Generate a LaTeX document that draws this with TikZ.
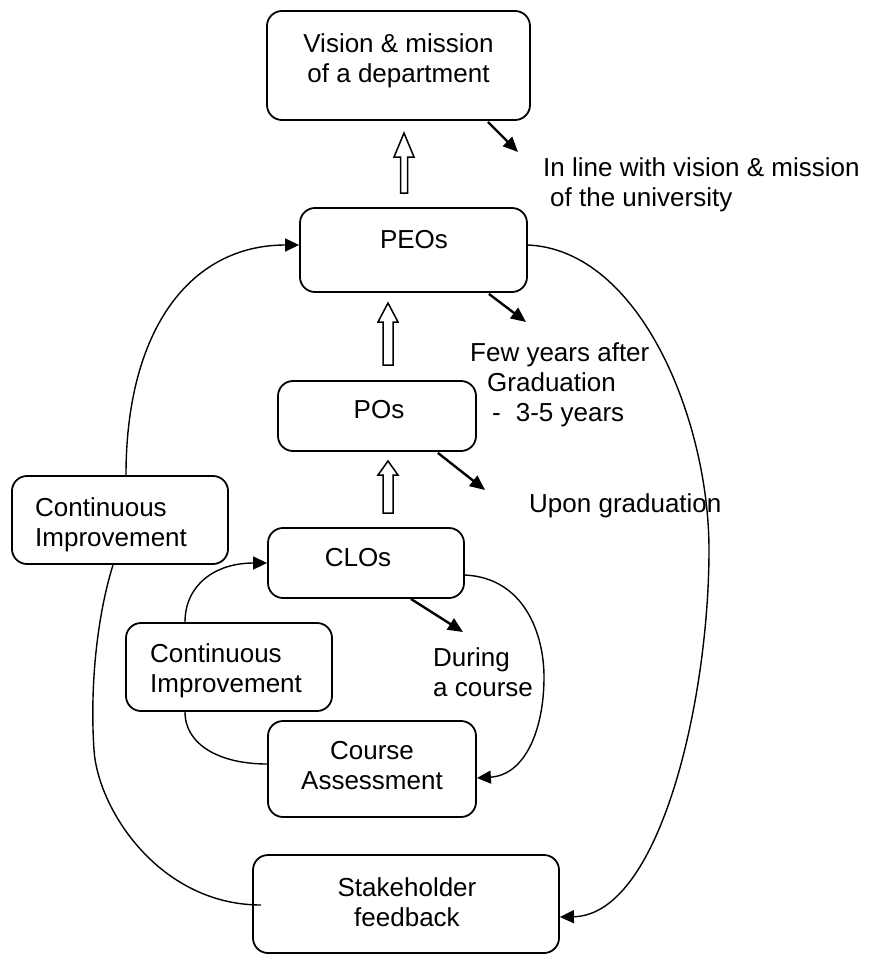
\documentclass[tikz,border=0pt]{standalone}
\usepackage{fontspec}
\setmainfont{Liberation Sans}
\usetikzlibrary{arrows.meta,calc}
\begin{document}
\begin{tikzpicture}[x=1pt,y=-1pt,
  box/.style={draw, line width=1.8pt, rounded corners=15pt, inner sep=0pt},
  txt/.style={inner sep=0pt, font=\fontsize{26}{30}\selectfont},
  conn/.style={line width=1.4pt, -{Triangle[length=14pt,width=13pt]}},
  plainconn/.style={line width=1.4pt},
  diag/.style={line width=2.4pt, -{Triangle[length=15pt,width=13pt]}},
  hollow/.style={draw, line width=1.5pt, fill=white, line join=miter}]
\useasboundingbox (0,0) rectangle (868,956);

% boxes
\node[box, minimum width=263pt, minimum height=109pt] (vis) at (398.5,65.5) {};
\node[box, minimum width=227pt, minimum height=84pt] (peo) at (413.5,250) {};
\node[box, minimum width=198pt, minimum height=70pt] (po) at (377,416) {};
\node[box, minimum width=196pt, minimum height=70pt] (clo) at (366,563) {};
\node[box, minimum width=208pt, minimum height=96pt] (ca) at (372,769) {};
\node[box, minimum width=206pt, minimum height=88pt] (cii) at (229,667) {};
\node[box, minimum width=216pt, minimum height=88pt] (cio) at (120,520) {};
\node[box, minimum width=306pt, minimum height=98pt] (sh) at (406,904) {};

% texts
\node[txt, anchor=north, align=center] (visT) at (398.5,33) {Vision \& mission\\of a department};
\node[txt, anchor=north west, align=left] (univT) at (543,157) {In line with vision \& mission\\\hspace*{7pt}of the university};
\node[txt, anchor=north] (peoT) at (414,230) {PEOs};
\node[txt, anchor=north west, align=left] (fewT) at (470,342) {Few years after\\\hspace*{17pt}Graduation\\\hspace*{22pt}-\hspace{15pt}3-5 years};
\node[txt, anchor=north] (poT) at (379,400) {POs};
\node[txt, anchor=north west] (upT) at (529,493) {Upon graduation};
\node[txt, anchor=north] (cloT) at (358,548) {CLOs};
\node[txt, anchor=north west, align=left] (durT) at (433,647) {During\\a course};
\node[txt, anchor=north, align=center] (caT) at (372,741) {Course\\Assessment};
\node[txt, anchor=north west, align=left] (ciiT) at (150,643) {Continuous\\Improvement};
\node[txt, anchor=north west, align=left] (cioT) at (35,497) {Continuous\\Improvement};
\node[txt, anchor=north, align=center] (shT) at (407,877) {Stakeholder\\feedback};

% hollow block arrows
\draw[hollow] (400.5,193) -- (400.5,157) -- (394,157) -- (404,133) -- (414,157) -- (407.5,157) -- (407.5,193) -- cycle;
\draw[hollow] (383,365) -- (383,322) -- (378,322) -- (388,303) -- (398,322) -- (393,322) -- (393,365) -- cycle;
\draw[hollow] (383,513) -- (383,475) -- (378,475) -- (388,461) -- (398,475) -- (393,475) -- (393,513) -- cycle;

% diagonal arrows
\coordinate (d1) at (518,152);
\coordinate (d2) at (526,322);
\coordinate (d3) at (485,490);
\coordinate (d4) at (463,632);
\draw[diag] ($(vis.south east)+(-43,1)$) -- (d1);
\draw[diag] ($(peo.south east)+(-39,1)$) -- (d2);
\draw[diag] ($(po.south east)+(-39,1)$) -- (d3);
\draw[diag] ($(clo.south east)+(-54,0)$) -- (d4);

% curved connectors
\draw[conn] ($(cio.north)+(6,0)$) .. controls (126,330) and (190,245) .. ($(peo.west)+(0,-5)$);
\draw[plainconn] ($(cio.south)+(-7,0)$) .. controls (96,620) and (90,690) .. (94,750) .. controls (98,810) and (160,905) .. ($(sh.west)+(9,1)$);
\draw[conn] ($(cii.north)+(-44,0)$) .. controls (185,585) and (215,563) .. (clo.west);
\draw[plainconn] ($(cii.south)+(-44,0)$) .. controls (185,745) and (220,764) .. ($(ca.west)+(0,-5)$);
\draw[conn] ($(clo.east)+(0,12)$) .. controls (525,578) and (544,635) .. (544,677) .. controls (544,730) and (525,775) .. ($(ca.east)+(0,9)$);
\draw[conn] ($(peo.east)+(0,-5)$) .. controls (640,250) and (709,420) .. (709,550) .. controls (709,700) and (660,915) .. ($(sh.east)+(0,13)$);
\end{tikzpicture}
\end{document}
